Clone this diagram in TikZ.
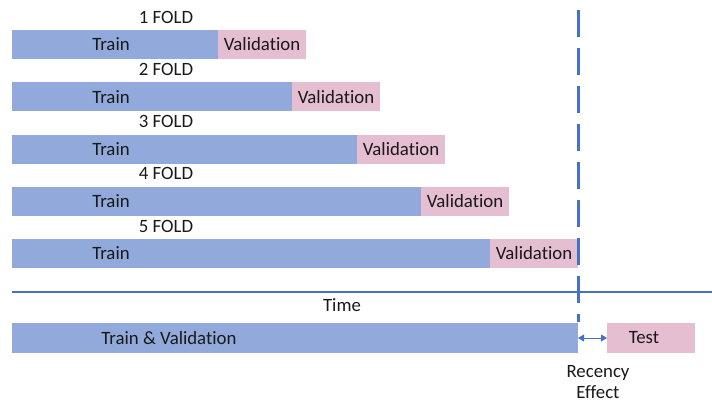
\documentclass[tikz,border=0pt]{standalone}
\usepackage{fontspec}
\setmainfont[Ligatures=NoCommon]{Carlito}
\usetikzlibrary{arrows.meta}
\definecolor{trainblue}{RGB}{146,170,219}
\definecolor{valpink}{RGB}{230,190,210}
\definecolor{lineblue}{RGB}{68,114,196}
\definecolor{txt}{RGB}{25,25,25}
\begin{document}
\begin{tikzpicture}[x=1pt,y=-1pt,
  bar/.style={draw=none,inner sep=0pt,outer sep=0pt,anchor=north west,minimum height=29pt},
  trainbar/.style={bar,fill=trainblue},
  valbar/.style={bar,fill=valpink,text=txt,font=\fontsize{18.8}{21}\selectfont},
  lbl/.style={text=txt,font=\fontsize{18.8}{21}\selectfont,inner sep=0pt},
  axis/.style={draw=lineblue,line width=2pt},
  vdash/.style={draw=lineblue,line width=3pt,dash pattern=on 27pt off 11pt},
  recarrow/.style={draw=lineblue,line width=0.8pt,{Triangle[length=6pt,width=7pt]}-{Triangle[length=6pt,width=7pt]}}
]
\useasboundingbox (0,0) rectangle (712,402);
\foreach \i/\tw in {1/206,2/280,3/345,4/409,5/478}{
  \pgfmathsetmacro{\top}{30+52.25*(\i-1)}
  \node[trainbar,minimum width=\tw pt] (tr\i) at (12,\top) {};
  \node[valbar,minimum width=88pt] (va\i) at (tr\i.north east) {Validation};
  \node[lbl] (trt\i) at (111,\top+14.5) {Train};
  \node[lbl] (fold\i) at (166,\top-13) {\i\ FOLD};
}
\node[trainbar,minimum width=566pt,minimum height=30pt] (tv) at (12,323) {};
\node[lbl] (tvt) at (169,338) {Train \& Validation};
\node[valbar,minimum width=88pt,minimum height=30pt] (test) at (607,323) {};
\node[lbl] (testt) at (644,338) {Test};
\coordinate (axl) at (12,292);
\coordinate (axr) at (712,292);
\draw[axis] (axl) -- (axr);
\node[lbl] (time) at (342,305) {Time};
\coordinate (vtop) at (578,10);
\coordinate (vbot) at (578,322);
\draw[vdash] (vtop) -- (vbot);
\draw[recarrow] (tv.east) -- (test.west);
\node[lbl,anchor=base] (rec) at (598,377) {Recency};
\node[lbl,anchor=base] (eff) at (598,398) {Effect};
\end{tikzpicture}
\end{document}
